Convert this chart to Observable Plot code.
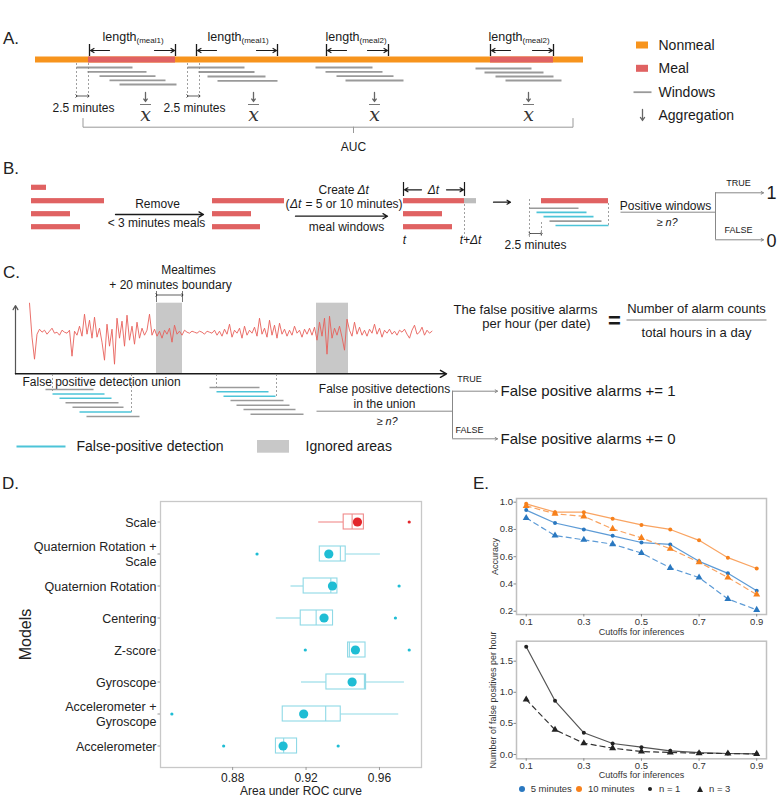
<!DOCTYPE html>
<html><head><meta charset="utf-8">
<script src="https://cdn.jsdelivr.net/npm/d3@7"></script>
<script src="https://cdn.jsdelivr.net/npm/@observablehq/plot@0.6"></script>
<style>
body{margin:0;background:#fff;}
#root{position:relative;width:784px;height:799px;overflow:hidden;font-family:"Liberation Sans",Arial,sans-serif;color:#222;background:#fff;}
.plbl{position:absolute;font-size:17px;color:#222;line-height:1;}
.leg{position:absolute;font-size:9.5px;color:#333;line-height:1;white-space:nowrap;}
</style></head><body><div id="root"></div>
<script>
// ===================== DATA =====================
// Panel A (diagram)
const aBar = [{x1:35,x2:583}];
const aMeals = [{x1:88,x2:175},{x1:490,x2:553}];
const aLengths = [
  {x1:89,x2:175,tx:102,sub:"(meal1)"},
  {x1:196,x2:277,tx:207,sub:"(meal1)"},
  {x1:326,x2:388,tx:325,sub:"(meal2)"},
  {x1:490,x2:553,tx:488,sub:"(meal2)"}];
const aWindows = [
  {x1:76,x2:132,y:67},{x1:87,x2:146,y:71.3},{x1:99,x2:155,y:75.6},{x1:109,x2:165,y:79.8},{x1:119,x2:176,y:84},
  {x1:187,x2:244,y:67},{x1:198,x2:254,y:71.5},{x1:207,x2:265,y:76},{x1:217,x2:277,y:80.3},
  {x1:315,x2:372,y:67},{x1:325,x2:382,y:71.3},{x1:336,x2:393,y:75.6},{x1:345,x2:403,y:80},
  {x1:475,x2:531,y:68},{x1:484,x2:543,y:72},{x1:495,x2:553,y:76},{x1:505,x2:561,y:80}];
const aShift = [{x1:76,x2:88},{x1:187,x2:199}];
const aAggX = [145,253,374,528];
const aAuc = [{x1:82.5,x2:572.5,xm:353}];
const aLegend = [
  {label:"Nonmeal",kind:"rect",color:"#f7941d",y:45},
  {label:"Meal",kind:"rect",color:"#e06262",y:68.3},
  {label:"Windows",kind:"line",color:"#9a9a9a",y:91.7},
  {label:"Aggregation",kind:"arrow",color:"#666",y:115}];

// Panel B (diagram)
const bRaw = [{x1:31,x2:46,y:187.3},{x1:31,x2:104,y:200.7},{x1:31,x2:70,y:213.7},{x1:31,x2:80,y:226.7}];
const bKept = [{x1:212,x2:284,y:200.7},{x1:212,x2:251,y:213.7},{x1:212,x2:260,y:226.7}];
const bMealWin = [{x1:403,x2:464,y:200.7},{x1:403,x2:442,y:213.7},{x1:403,x2:452,y:226.7}];
const bExt = [{x1:464,x2:476,y:200.7}];
const bMeal = [{x1:541,x2:608,y:200.7}];
const bWindows = [
  {x1:529,x2:578,y:207.7,pos:false},{x1:536,x2:586,y:211.9,pos:true},{x1:543,x2:593,y:216.1,pos:true},
  {x1:549,x2:601,y:220.6,pos:false},{x1:555,x2:608,y:225,pos:true}];

// Panel C (diagram)
const cIgnored = [{x1:156,x2:182},{x1:316,x2:348}];
const cSignal = [29,-5,-27,-2,3,0,2,-2,1,4,-1,0,-3,2,0,-1,2,-24,1,-3,6,-4,18,-2,12,-6,15,-5,4,-10,
  -28,8,-14,3,-32,14,-6,11,-14,17,-8,6,-12,10,-6,4,-3,2,18,-3,3,-4,1,-6,2,-2,4,-10,7,-2,
  1,-3,2,0,-1,1,0,-1,1,0,-2,1,0,-1,2,-3,1,-4,3,-2,8,-5,2,-1,4,-6,6,-3,2,-1,
  5,-4,14,-2,4,-5,12,-3,7,-6,9,-2,3,-4,2,-3,6,-1,2,-5,3,-2,4,-3,5,-8,10,-4,14,-22,
  16,-6,4,-3,6,-5,-18,13,2,-4,10,-2,5,-3,2,-4,3,-1,8,-2,4,-5,2,-1,3,-2,1,-3,2,0,
  3,-2,-6,2,7,-2,0,5,-3,2,-1,1];
const cWindows = [
  {x1:45,x2:93,y:389,pos:false},{x1:52,x2:104,y:393.5,pos:true},{x1:59,x2:111,y:397.8,pos:true},
  {x1:65,x2:118,y:402.3,pos:false},{x1:72,x2:123,y:406.8,pos:false},{x1:79,x2:131,y:411.5,pos:true},{x1:86,x2:139,y:416,pos:false},
  {x1:209,x2:259,y:387,pos:false},{x1:216,x2:268,y:391.3,pos:true},{x1:223,x2:275,y:395.7,pos:true},
  {x1:230,x2:283,y:400,pos:false},{x1:236,x2:289,y:404.7,pos:false},{x1:243,x2:295,y:409,pos:false},{x1:250,x2:303,y:413.7,pos:false}];
const cUnionEdges = [{x:52,y2:391},{x:131,y2:412},{x:216,y2:387},{x:276,y2:397}];

// Panel D: AUC box plots
const models = ["Scale","Quaternion Rotation +\nScale","Quaternion Rotation","Centering","Z-score","Gyroscope","Accelerometer +\nGyroscope","Accelerometer"];
const boxLo   = [0.9269,0.9275,0.9118,0.9038,0.9429,0.9175,0.9073,0.9036];
const boxQ1   = [0.9405,0.9275,0.9187,0.9171,0.9429,0.9311,0.9073,0.9036];
const boxMed  = [0.9451,0.9387,0.9335,0.9255,0.9436,0.9518,0.9307,0.9078];
const boxQ3   = [0.9515,0.9416,0.9371,0.9347,0.9524,0.9527,0.9389,0.9151];
const boxHi   = [0.9515,0.9605,0.9371,0.9347,0.9524,0.9736,0.9705,0.9151];
const boxMean = [0.9480,0.9324,0.9344,0.9298,0.9469,0.9451,0.9187,0.9075];
const boxOut  = [[0.9762],[0.8933],[0.9707],[0.9687],[0.9196,0.9762],[],[0.8469],[0.8751,0.9375]];
const aucTicks = [0.88,0.92,0.96];

// Panel E: accuracy and false positives per cutoff
const cutoffs = [0.1,0.2,0.3,0.4,0.5,0.6,0.7,0.8,0.9];
const acc5n1  = [0.942,0.847,0.800,0.753,0.704,0.690,0.566,0.478,0.350];
const acc5n3  = [0.884,0.755,0.724,0.692,0.627,0.518,0.447,0.290,0.210];
const acc10n1 = [0.988,0.927,0.927,0.879,0.833,0.800,0.720,0.593,0.513];
const acc10n3 = [0.973,0.915,0.896,0.804,0.738,0.658,0.559,0.448,0.322];
const fpN1 = [1.731,0.863,0.349,0.177,0.118,0.059,0.030,0.016,0.010];
const fpN3 = [0.884,0.397,0.182,0.102,0.048,0.033,0.020,0.015,0.010];
const cutTicks = [0.1,0.3,0.5,0.7,0.9];
const accTicks = [0.2,0.4,0.6,0.8,1.0];
const fpTicks = [0,0.5,1.0,1.5];

// ===================== RENDER =====================
const F = '"Liberation Sans", Arial, sans-serif';
const root = document.getElementById("root");
function place(el, left, top){ el.style.position="absolute"; el.style.left=left+"px"; el.style.top=top+"px"; root.appendChild(el); return el; }

const RED = "#e06262", CYAN = "#4cc4d8", GREY = "#9a9a9a", INK = "#1a1a1a";
const T = (data, o) => Plot.text(data, Object.assign({fill:INK, fontSize:12}, o));
const one = [0];

const diag = Plot.plot({
  width:784, height:460, margin:0,
  x:{domain:[0,784], range:[0,784], axis:null},
  y:{domain:[0,460], range:[0,460], axis:null},
  style:{fontFamily:F, background:"transparent", overflow:"visible"},
  marks:[
    // ---------- A ----------
    Plot.rect(aBar, {x1:"x1", x2:"x2", y1:56.5, y2:62.5, fill:"#f7941d"}),
    Plot.rect(aMeals, {x1:"x1", x2:"x2", y1:56.5, y2:62.5, fill:RED}),
    Plot.ruleX(aLengths.flatMap(d=>[d.x1,d.x2]), {x:d=>d, y1:44, y2:56, stroke:INK, strokeWidth:1.3}),
    Plot.arrow(aLengths, {x1:d=>d.x1+20, x2:d=>d.x1+1, y1:50, y2:50, stroke:INK, strokeWidth:1.2, headLength:5}),
    Plot.arrow(aLengths, {x1:d=>d.x2-21, x2:d=>d.x2-1, y1:50, y2:50, stroke:INK, strokeWidth:1.2, headLength:5}),
    T(aLengths, {x:"tx", y:36, text:()=>"length", textAnchor:"start", fontSize:12.5}),
    T(aLengths, {x:d=>d.tx+34, y:40, text:"sub", textAnchor:"start", fontSize:8}),
    Plot.link(aWindows, {x1:"x1", x2:"x2", y1:"y", y2:"y", stroke:GREY, strokeWidth:1.8}),
    Plot.ruleX(aShift.flatMap(d=>[d.x1,d.x2]), {x:d=>d, y1:63, y2:99, stroke:"#888", strokeWidth:0.8, strokeDasharray:"2,2"}),
    Plot.link(aShift, {x1:"x1", x2:"x2", y1:95.5, y2:95.5, stroke:INK, strokeWidth:0.7, markerStart:"arrow", markerEnd:"arrow"}),
    T(aShift, {x:d=>(d.x1+d.x2)/2+1, y:108, text:()=>"2.5 minutes", fontSize:12}),
    Plot.arrow(aAggX, {x1:d=>d, x2:d=>d, y1:92, y2:101, stroke:"#666", strokeWidth:1.3, headLength:4.5, headAngle:70}),
    Plot.link(aAggX, {x1:d=>d-5.5, x2:d=>d+5.5, y1:104, y2:104, stroke:"#555", strokeWidth:0.8}),
    T(aAggX, {x:d=>d, y:114, text:()=>"x", fontFamily:"DejaVu Serif", fontStyle:"italic", fontSize:19, fill:"#333"}),
    Plot.line(aAuc.flatMap(d=>[[d.x1,118],[d.x1,126.7],[d.x2,126.7],[d.x2,118]]), {x:d=>d[0], y:d=>d[1], stroke:"#999", strokeWidth:1}),
    Plot.ruleX(aAuc, {x:"xm", y1:126.7, y2:133, stroke:"#999"}),
    T(aAuc, {x:"xm", y:147, text:()=>"AUC", fontSize:12}),
    Plot.rect(aLegend.filter(d=>d.kind==="rect"), {x1:636, x2:648, y1:d=>d.y-3.5, y2:d=>d.y+3.5, fill:"color"}),
    Plot.link(aLegend.filter(d=>d.kind==="line"), {x1:633, x2:651, y1:"y", y2:"y", stroke:"color", strokeWidth:1.8}),
    Plot.arrow(aLegend.filter(d=>d.kind==="arrow"), {x1:642, x2:642, y1:d=>d.y-6, y2:d=>d.y+5, stroke:"color", strokeWidth:1.3, headLength:4.5, headAngle:70}),
    T(aLegend, {x:658, y:"y", text:"label", textAnchor:"start", fontSize:14}),

    // ---------- B ----------
    Plot.rect([...bRaw,...bKept,...bMealWin,...bMeal], {x1:"x1", x2:"x2", y1:d=>d.y-2.6, y2:d=>d.y+2.6, fill:RED}),
    Plot.rect(bExt, {x1:"x1", x2:"x2", y1:d=>d.y-2.6, y2:d=>d.y+2.6, fill:"#bdbdbd"}),
    T(one, {x:157, y:203.3, text:()=>"Remove"}),
    Plot.arrow(one, {x1:115, x2:203, y1:214, y2:214, stroke:INK, strokeWidth:1.3, headLength:6}),
    T(one, {x:156, y:223, text:()=>"< 3 minutes meals"}),
    T(one, {x:318, y:189.3, text:()=>"Create", textAnchor:"start"}),
    T(one, {x:357, y:189.3, text:()=>"Δt", textAnchor:"start", fontStyle:"italic"}),
    T(one, {x:285, y:204, text:()=>"(", textAnchor:"start"}),
    T(one, {x:289.5, y:204, text:()=>"Δt", textAnchor:"start", fontStyle:"italic"}),
    T(one, {x:305, y:204, text:()=>"= 5 or 10 minutes)", textAnchor:"start"}),
    Plot.arrow(one, {x1:295, x2:387, y1:215.7, y2:215.7, stroke:INK, strokeWidth:1.3, headLength:6}),
    T(one, {x:346, y:226.5, text:()=>"meal windows"}),
    Plot.ruleX([403,464], {x:d=>d, y1:182, y2:196, stroke:INK, strokeWidth:1.2}),
    Plot.arrow(one, {x1:421, x2:404, y1:189.3, y2:189.3, stroke:INK, strokeWidth:1.2, headLength:5}),
    Plot.arrow(one, {x1:446, x2:463, y1:189.3, y2:189.3, stroke:INK, strokeWidth:1.2, headLength:5}),
    T(one, {x:433, y:189.3, text:()=>"Δt", fontStyle:"italic"}),
    Plot.ruleX([464], {x:d=>d, y1:204, y2:238, stroke:"#888", strokeWidth:0.8, strokeDasharray:"2,2"}),
    T(one, {x:404, y:240, text:()=>"t", fontStyle:"italic"}),
    T(one, {x:470, y:240, text:()=>"t+Δt", fontStyle:"italic"}),
    Plot.arrow(one, {x1:493, x2:510, y1:201.7, y2:201.7, stroke:INK, strokeWidth:1.2, headLength:5}),
    Plot.link(bWindows, {x1:"x1", x2:"x2", y1:"y", y2:"y", stroke:d=>d.pos?CYAN:GREY, strokeWidth:1.6}),
    Plot.ruleX([{x:529,y1:199,y2:238},{x:541,y1:222,y2:238},{x:608,y1:203,y2:226}], {x:"x", y1:"y1", y2:"y2", stroke:"#888", strokeWidth:0.8, strokeDasharray:"2,2"}),
    Plot.link(one, {x1:529, x2:541, y1:233, y2:233, stroke:INK, strokeWidth:0.7, markerStart:"arrow", markerEnd:"arrow"}),
    T(one, {x:535, y:245, text:()=>"2.5 minutes"}),
    T(one, {x:665, y:206, text:()=>"Positive windows"}),
    Plot.link(one, {x1:620, x2:715, y1:211.7, y2:211.7, stroke:"#888", strokeWidth:1}),
    T(one, {x:662, y:222, text:()=>"≥", textAnchor:"end", fontSize:11}),
    T(one, {x:665, y:222, text:()=>"n?", textAnchor:"start", fontStyle:"italic", fontSize:11}),
    Plot.ruleX([715], {x:d=>d, y1:192.3, y2:239.3, stroke:"#888", strokeWidth:1}),
    Plot.arrow([192.3,239.3], {x1:715, x2:763, y1:d=>d, y2:d=>d, stroke:"#888", strokeWidth:1, headLength:4}),
    T(one, {x:738, y:183, text:()=>"TRUE", fontSize:9}),
    T(one, {x:738, y:230, text:()=>"FALSE", fontSize:9}),
    T(one, {x:766, y:193, text:()=>"1", textAnchor:"start", fontSize:18}),
    T(one, {x:766, y:241, text:()=>"0", textAnchor:"start", fontSize:18}),

    // ---------- C ----------
    T(one, {x:188, y:269.5, text:()=>"Mealtimes"}),
    T(one, {x:170, y:285, text:()=>"+ 20 minutes boundary"}),
    Plot.ruleX([156,182], {x:d=>d, y1:291, y2:302, stroke:"#555", strokeWidth:0.8}),
    Plot.link(one, {x1:156, x2:182, y1:294.5, y2:294.5, stroke:INK, strokeWidth:0.7, markerStart:"arrow", markerEnd:"arrow"}),
    Plot.rect(cIgnored, {x1:"x1", x2:"x2", y1:302.7, y2:373.3, fill:"#c8c8c8"}),
    Plot.line(cSignal, {x:(d,i)=>29+2.5*i, y:d=>331.7-d, stroke:"#e8605a", strokeWidth:0.9}),
    Plot.arrow(one, {x1:15, x2:15, y1:373.3, y2:305, stroke:"#555", strokeWidth:1.2, headLength:6}),
    Plot.arrow(one, {x1:15, x2:446, y1:373.3, y2:373.3, stroke:INK, strokeWidth:1.5, headLength:7}),
    T(one, {x:22, y:382, text:()=>"False positive detection union", textAnchor:"start"}),
    Plot.ruleX(cUnionEdges, {x:"x", y1:374, y2:"y2", stroke:"#888", strokeWidth:0.8, strokeDasharray:"2,2"}),
    Plot.link(cWindows, {x1:"x1", x2:"x2", y1:"y", y2:"y", stroke:d=>d.pos?CYAN:GREY, strokeWidth:1.6}),
    T(one, {x:384, y:389, text:()=>"False positive detections"}),
    T(one, {x:384, y:403.5, text:()=>"in the union"}),
    Plot.link(one, {x1:316, x2:452, y1:410.7, y2:410.7, stroke:"#888", strokeWidth:1}),
    T(one, {x:382, y:420.5, text:()=>"≥", textAnchor:"end", fontSize:11}),
    T(one, {x:385, y:420.5, text:()=>"n?", textAnchor:"start", fontStyle:"italic", fontSize:11}),
    Plot.ruleX([452], {x:d=>d, y1:390.7, y2:438.3, stroke:"#888", strokeWidth:1}),
    Plot.arrow([390.7,438.3], {x1:452, x2:497, y1:d=>d, y2:d=>d, stroke:"#888", strokeWidth:1, headLength:4}),
    T(one, {x:469, y:379, text:()=>"TRUE", fontSize:9}),
    T(one, {x:469, y:430, text:()=>"FALSE", fontSize:9}),
    T(["False positive alarms += 1","False positive alarms += 0"], {x:500, y:(d,i)=>i?438.3:390.7, text:d=>d, textAnchor:"start", fontSize:15}),
    T(one, {x:525, y:309.3, text:()=>"The false positive alarms", fontSize:13}),
    T(one, {x:536, y:323.3, text:()=>"per hour (per date)", fontSize:13}),
    T(one, {x:614, y:320, text:()=>"=", fontSize:22, fontWeight:"bold"}),
    T(one, {x:696, y:308.3, text:()=>"Number of alarm counts", fontSize:13}),
    Plot.link(one, {x1:626, x2:766, y1:319.5, y2:319.5, stroke:"#aaa", strokeWidth:1.5}),
    T(one, {x:696, y:332, text:()=>"total hours in a day", fontSize:13}),
    Plot.link(one, {x1:16, x2:65, y1:446, y2:446, stroke:CYAN, strokeWidth:2.2}),
    T(one, {x:76, y:446, text:()=>"False-positive detection", textAnchor:"start", fontSize:14}),
    Plot.rect(one, {x1:257, x2:289, y1:440, y2:452.7, fill:"#c8c8c8"}),
    T(one, {x:305, y:446, text:()=>"Ignored areas", textAnchor:"start", fontSize:14})
  ]
});
place(diag, 0, 0);

// panel labels
[["A.",3,30],["B.",3,160],["C.",3,264],["D.",2,475],["E.",473,475]].forEach(([t,x,y])=>{
  const d=document.createElement("div"); d.className="plbl"; d.textContent=t; place(d,x,y);
});

// ---------- D ----------
const boxes = models.map((m,i)=>({model:m, lo:boxLo[i], q1:boxQ1[i], med:boxMed[i], q3:boxQ3[i], hi:boxHi[i], mean:boxMean[i],
  line: i===0 ? "#f08a8a" : "#8fd9e6", pt: i===0 ? "#e3262b" : "#1fbdd4"}));
const outs = boxes.flatMap((b,i)=>boxOut[i].map(v=>({model:b.model, v, pt:b.pt})));
const plotD = Plot.plot({
  width:480, height:329, marginTop:31, marginBottom:32, marginLeft:160, marginRight:59,
  x:{domain:[0.8407,0.9829]},
  y:{type:"band", domain:models, paddingInner:0.516, paddingOuter:0.358},
  color:{type:"identity"},
  style:{fontFamily:F, color:"#222", background:"transparent", overflow:"visible"},
  marks:[
    Plot.frame({stroke:"#c8c8c8", strokeWidth:1.3}),
    Plot.axisX({ticks:aucTicks, tickFormat:d=>d.toFixed(2), tickSize:3, tickPadding:2.5, fontSize:12, label:null, stroke:"#999"}),
    Plot.axisY({tickSize:2.5, tickPadding:1.5, fontSize:12.5, lineHeight:1.13, label:null, stroke:"#999"}),
    Plot.ruleY(boxes.filter(d=>d.lo<d.q1), {y:"model", x1:"lo", x2:"q1", stroke:"line", strokeWidth:1.1}),
    Plot.ruleY(boxes.filter(d=>d.hi>d.q3), {y:"model", x1:"q3", x2:"hi", stroke:"line", strokeWidth:1.1}),
    Plot.barX(boxes, {y:"model", x1:"q1", x2:"q3", fill:"white", stroke:"line", strokeWidth:1.1}),
    Plot.tickX(boxes, {y:"model", x:"med", stroke:"line", strokeWidth:1.1}),
    Plot.dot(outs, {y:"model", x:"v", r:1.6, fill:"pt"}),
    Plot.dot(boxes, {y:"model", x:"mean", r:4.6, fill:"pt"}),
    Plot.text(["Models"], {frameAnchor:"left", textAnchor:"middle", lineAnchor:"middle", dx:-135, rotate:-90, fontSize:16, fill:"#222"}),
    Plot.text(["Area under ROC curve"], {frameAnchor:"bottom", lineAnchor:"middle", dy:24, dx:10, fontSize:12, fill:"#222"})
  ]
});
place(plotD, 0, 470);

// ---------- E ----------
const winLine = {"5 minutes":"#5d9bd6","10 minutes":"#f9a462"};
const winPt = {"5 minutes":"#2a78c0","10 minutes":"#f7811c"};
const accRows = [];
[["5 minutes","n = 1",acc5n1],["5 minutes","n = 3",acc5n3],["10 minutes","n = 1",acc10n1],["10 minutes","n = 3",acc10n3]]
  .forEach(([w,n,vals])=>vals.forEach((v,i)=>accRows.push({cut:cutoffs[i], val:v, win:w, n, lc:winLine[w], pc:winPt[w]})));
const fpRows = [];
[["n = 1",fpN1],["n = 3",fpN3]].forEach(([n,vals])=>vals.forEach((v,i)=>fpRows.push({cut:cutoffs[i], val:v, n})));
const axE = (ticks, fmt) => ({ticks, tickFormat:fmt, tickSize:2.5, tickPadding:1, fontSize:9.5, label:null, stroke:"#888", fill:"#333"});
const xDomE = [0.0663,0.934];
const yTitle = (t, dx) => Plot.text([t], {frameAnchor:"left", textAnchor:"middle", lineAnchor:"middle", dx, rotate:-90, fontSize:9, fill:"#333"});
const xTitle = (dy) => Plot.text(["Cutoffs for inferences"], {frameAnchor:"bottom", lineAnchor:"middle", dy, fontSize:9, fill:"#333"});

const plotE1 = Plot.plot({
  width:304, height:170, marginTop:28, marginBottom:26, marginLeft:36, marginRight:18,
  x:{domain:xDomE}, y:{domain:[0.176,1.027]}, color:{type:"identity"},
  style:{fontFamily:F, background:"transparent", overflow:"visible"},
  marks:[
    Plot.frame({stroke:"#c0c0c0", strokeWidth:1.5}),
    Plot.axisX(axE(cutTicks, d=>d.toFixed(1))),
    Plot.axisY(axE(accTicks, d=>d.toFixed(1))),
    Plot.line(accRows.filter(d=>d.n==="n = 1"), {x:"cut", y:"val", z:"win", stroke:"lc", strokeWidth:1.2}),
    Plot.line(accRows.filter(d=>d.n==="n = 3"), {x:"cut", y:"val", z:"win", stroke:"lc", strokeWidth:1.2, strokeDasharray:"5,4"}),
    Plot.dot(accRows.filter(d=>d.n==="n = 1"), {x:"cut", y:"val", r:2, fill:"pc"}),
    Plot.dot(accRows.filter(d=>d.n==="n = 3"), {x:"cut", y:"val", r:2.6, symbol:"triangle", fill:"pc"}),
    yTitle("Accuracy", -21),
    xTitle(17.5)
  ]
});
place(plotE1, 480, 470);

const plotE2 = Plot.plot({
  width:304, height:150, marginTop:8.7, marginBottom:23.7, marginLeft:36, marginRight:18,
  x:{domain:xDomE}, y:{domain:[-0.069,1.821]},
  style:{fontFamily:F, background:"transparent", overflow:"visible"},
  marks:[
    Plot.frame({stroke:"#c0c0c0", strokeWidth:1.5}),
    Plot.axisX(axE(cutTicks, d=>d.toFixed(1))),
    Plot.axisY(axE(fpTicks, d=>d.toFixed(1))),
    Plot.line(fpRows.filter(d=>d.n==="n = 1"), {x:"cut", y:"val", stroke:"#555", strokeWidth:1.2}),
    Plot.line(fpRows.filter(d=>d.n==="n = 3"), {x:"cut", y:"val", stroke:"#333", strokeWidth:1.2, strokeDasharray:"5,4"}),
    Plot.dot(fpRows.filter(d=>d.n==="n = 1"), {x:"cut", y:"val", r:2, fill:"#222"}),
    Plot.dot(fpRows.filter(d=>d.n==="n = 3"), {x:"cut", y:"val", r:2.6, symbol:"triangle", fill:"#222"}),
    yTitle("Number of false positives per hour", -23),
    xTitle(16)
  ]
});
place(plotE2, 480, 632);

// legend for E
const legItems = [
  {label:"5 minutes", sym:"dot", color:"#2a78c0", x:521.7},
  {label:"10 minutes", sym:"dot", color:"#f7811c", x:579},
  {label:"n = 1", sym:"small", color:"#222", x:650},
  {label:"n = 3", sym:"tri", color:"#222", x:700}];
legItems.forEach(it=>{
  const s=document.createElement("div");
  if(it.sym==="tri"){ s.style.cssText=`width:0;height:0;border-left:3.5px solid transparent;border-right:3.5px solid transparent;border-bottom:6px solid ${it.color};`; place(s,it.x-3.5,786); }
  else { const r = it.sym==="dot"?3.2:2.2; s.style.cssText=`width:${2*r}px;height:${2*r}px;border-radius:50%;background:${it.color};`; place(s,it.x-r,789-r); }
  const t=document.createElement("div"); t.className="leg"; t.textContent=it.label; place(t,it.x+9,784);
});
</script></body></html>
